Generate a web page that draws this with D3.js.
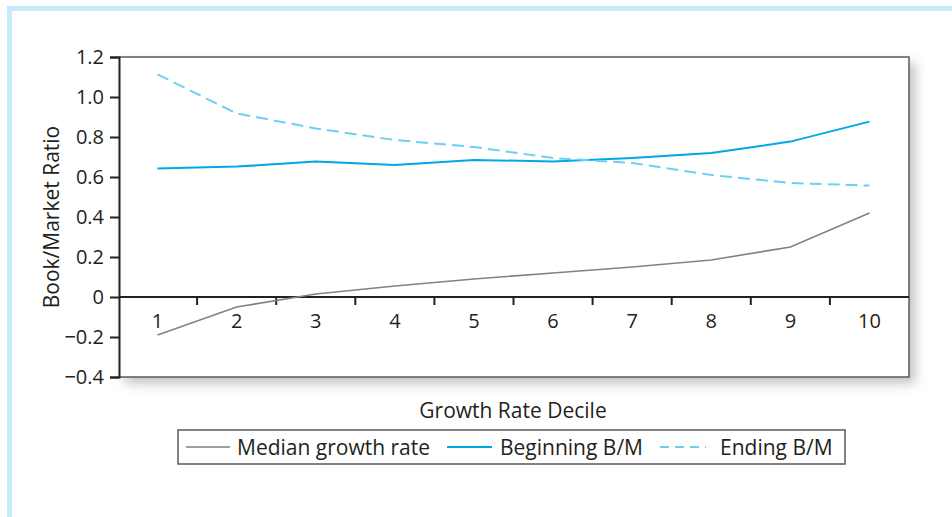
<!DOCTYPE html>
<html><head><meta charset="utf-8">
<script src="https://cdn.jsdelivr.net/npm/d3@7"></script>
<style>
html,body{margin:0;padding:0;background:#fff;}
svg{display:block;font-family:"Open Sans","Noto Sans",sans-serif;}
</style></head>
<body>
<svg id="chart" width="952" height="517"></svg>
<script>
const deciles = ["1","2","3","4","5","6","7","8","9","10"];
const medianGrowth = [-0.19, -0.05, 0.015, 0.055, 0.09, 0.12, 0.15, 0.185, 0.25, 0.42];
const beginningBM = [0.643, 0.652, 0.677, 0.66, 0.685, 0.678, 0.695, 0.72, 0.777, 0.877];
const endingBM = [1.113, 0.918, 0.843, 0.785, 0.75, 0.695, 0.67, 0.61, 0.57, 0.557];
const yTicks = [1.2, 1.0, 0.8, 0.6, 0.4, 0.2, 0, -0.2, -0.4];
const yTickLabels = ["1.2","1.0","0.8","0.6","0.4","0.2","0","\u22120.2","\u22120.4"];
const seriesNames = ["Median growth rate","Beginning B/M","Ending B/M"];

const svg = d3.select("#chart");
const L = 119, R = 909, T = 57, B = 377;
const textColor = "#231f20";
const FONT = "'Open Sans','Noto Sans',sans-serif";

// page border
svg.append("rect").attr("x",7).attr("y",6).attr("width",945).attr("height",5).attr("fill","#c9eaf9");
svg.append("rect").attr("x",7).attr("y",6).attr("width",5).attr("height",511).attr("fill","#c9eaf9");

const defs = svg.append("defs");
const f = defs.append("filter").attr("id","sh").attr("x","-10%").attr("y","-10%").attr("width","130%").attr("height","130%");
f.append("feDropShadow").attr("dx",6).attr("dy",6).attr("stdDeviation",6).attr("flood-color","#000").attr("flood-opacity",0.25);

svg.append("rect").attr("x",L).attr("y",T).attr("width",R-L).attr("height",B-T)
  .attr("fill","#fff").attr("filter","url(#sh)");

const x = d3.scaleBand().domain(deciles).range([L-1, R]);
const y = d3.scaleLinear().domain([-0.4, 1.2]).range([B, T]);

// frame top/right/bottom
svg.append("path").attr("d",`M${L},${T}H${R}V${B}H${L}`).attr("fill","none").attr("stroke","#58595b").attr("stroke-width",1.5);

// y axis
const yAxis = d3.axisLeft(y).tickValues(yTicks).tickFormat((d,i)=>yTickLabels[i]).tickSize(9).tickPadding(6);
const gy = svg.append("g").attr("transform",`translate(${L},0)`).call(yAxis);
gy.attr("font-size",null).attr("font-family",null);
gy.select(".domain").attr("stroke","#231f20").attr("stroke-width",2);
gy.selectAll(".tick line").attr("stroke","#231f20").attr("stroke-width",2);
gy.selectAll(".tick text").attr("fill",textColor).style("font-size","20px").style("font-family",FONT);

// zero axis with ticks at band boundaries
svg.append("line").attr("x1",L).attr("x2",R).attr("y1",y(0)).attr("y2",y(0)).attr("stroke","#231f20").attr("stroke-width",2);
svg.append("g").selectAll("line").data(deciles.slice(1)).join("line")
  .attr("x1",d=>x(d)).attr("x2",d=>x(d)).attr("y1",y(0)).attr("y2",y(0)+8)
  .attr("stroke","#231f20").attr("stroke-width",2);
svg.append("g").selectAll("text").data(deciles).join("text")
  .attr("x",d=>x(d)+x.bandwidth()/2).attr("y",y(0)+31)
  .attr("text-anchor","middle").attr("fill",textColor).style("font-size","20px").text(d=>d);

// lines
const line = d3.line().x((d,i)=>x(deciles[i])+x.bandwidth()/2).y(d=>y(d));
svg.append("path").datum(medianGrowth).attr("d",line).attr("fill","none").attr("stroke","#808285").attr("stroke-width",1.6);
svg.append("path").datum(beginningBM).attr("d",line).attr("fill","none").attr("stroke","#00a8e8").attr("stroke-width",2);
svg.append("path").datum(endingBM).attr("d",line).attr("fill","none").attr("stroke","#6dcff6").attr("stroke-width",2).attr("stroke-dasharray","12,6");

// axis titles
svg.append("text").attr("x",513).attr("y",418).attr("text-anchor","middle").attr("fill",textColor).style("font-size","21px").text("Growth Rate Decile");
svg.append("text").attr("transform","translate(59,217) rotate(-90)").attr("text-anchor","middle").attr("fill",textColor).style("font-size","21px").text("Book/Market Ratio");

// legend
svg.append("rect").attr("x",178).attr("y",430).attr("width",667).attr("height",34).attr("fill","#fff").attr("stroke","#58595b").attr("stroke-width",1.5);
const legItems = [
  {x0:186, x1:230, tx:237, color:"#808285", dash:null, w:1.6},
  {x0:447, x1:492, tx:500, color:"#00a8e8", dash:null, w:2},
  {x0:660, x1:706, tx:720, color:"#6dcff6", dash:"9,6", w:2}
];
legItems.forEach((it,i)=>{
  svg.append("line").attr("x1",it.x0).attr("x2",it.x1).attr("y1",447).attr("y2",447)
    .attr("stroke",it.color).attr("stroke-width",it.w).attr("stroke-dasharray",it.dash);
  svg.append("text").attr("x",it.tx).attr("y",455).attr("fill",textColor).style("font-size","21px").text(seriesNames[i]);
});
</script>
</body></html>
